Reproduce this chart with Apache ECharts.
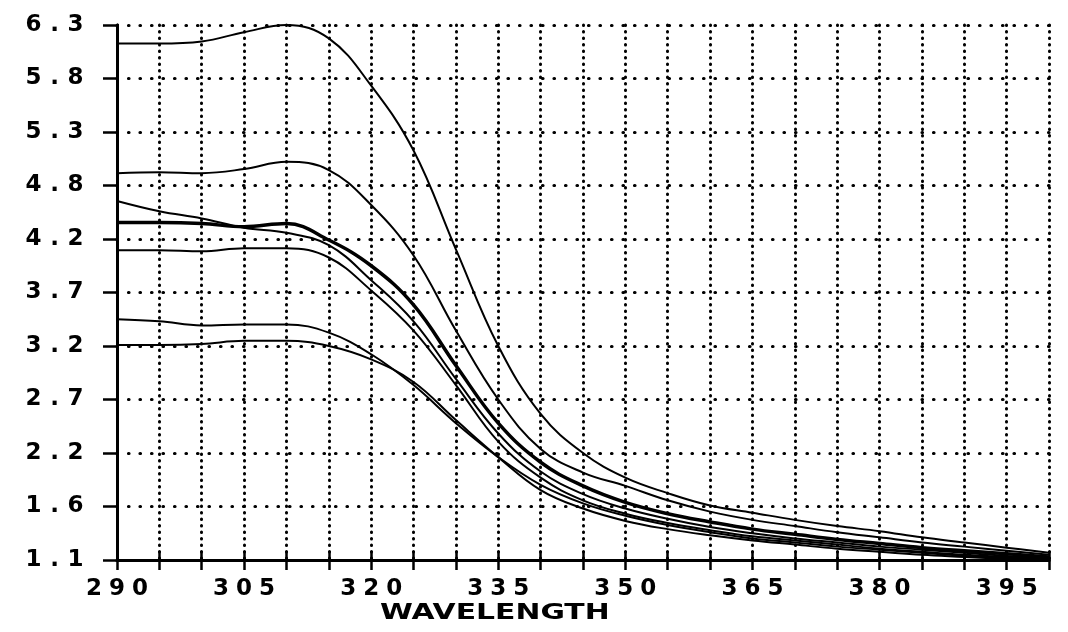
<!DOCTYPE html>
<html>
<head>
<meta charset="utf-8">
<script src="https://cdn.jsdelivr.net/npm/echarts@6/dist/echarts.min.js"></script>
<style>
html,body{margin:0;padding:0;background:#fff;}
#chart{width:1068px;height:632px;}
</style>
</head>
<body>
<div id="chart"></div>
<script>
// ---- data ----
const wavelengths = [290,295,300,305,310,315,320,325,330,335,340,345,350,355,360,365,370,375,380,385,390,395,400];
const curve1 = [6.12,6.12,6.14,6.23,6.30,6.17,5.71,5.08,4.12,3.18,2.52,2.14,1.90,1.75,1.63,1.56,1.49,1.43,1.38,1.32,1.27,1.22,1.17];
const curve2 = [4.86,4.87,4.86,4.90,4.97,4.89,4.55,4.06,3.33,2.66,2.18,1.95,1.82,1.68,1.57,1.49,1.43,1.37,1.32,1.27,1.23,1.19,1.15];
const curve3 = [4.59,4.49,4.42,4.33,4.28,4.16,3.82,3.42,2.86,2.33,1.96,1.74,1.60,1.50,1.42,1.36,1.31,1.27,1.23,1.20,1.17,1.14,1.12];
const curve4 = [4.38,4.38,4.37,4.34,4.37,4.21,3.96,3.58,2.99,2.43,2.05,1.82,1.66,1.55,1.47,1.40,1.35,1.30,1.26,1.22,1.19,1.16,1.13];
const curve5 = [4.11,4.11,4.10,4.13,4.13,4.04,3.72,3.33,2.80,2.25,1.90,1.68,1.55,1.46,1.39,1.33,1.29,1.25,1.21,1.18,1.15,1.13,1.11];
const curve6 = [3.44,3.42,3.38,3.39,3.39,3.31,3.10,2.80,2.43,2.10,1.83,1.65,1.53,1.44,1.37,1.31,1.27,1.23,1.20,1.17,1.14,1.12,1.10];
const curve7 = [3.19,3.19,3.20,3.23,3.23,3.18,3.05,2.83,2.46,2.10,1.78,1.60,1.48,1.40,1.34,1.29,1.25,1.21,1.18,1.15,1.13,1.11,1.09];
const yTickLabels = ['1.1','1.6','2.2','2.7','3.2','3.7','4.2','4.8','5.3','5.8','6.3'];
const xLabelStep = 15;
const xTitle = 'WAVELENGTH';
// ----------------------------------------------

const curves = [curve1, curve2, curve3, curve4, curve5, curve6, curve7];
const widths = [2, 2, 2, 3.5, 2, 2, 2];

function spaced(str) {
  return str.split('').map(function (c) { return '{c|' + c + '}'; }).join('');
}
const FONT = 'DejaVu Sans';

const chart = echarts.init(document.getElementById('chart'), null, {renderer: 'canvas'});
const dotH = {color: '#000', width: 3.2, type: [0.5, 11], cap: 'round'};
const dotV = {color: '#000', width: 3, type: [0.5, 6], cap: 'round'};

chart.setOption({
  backgroundColor: '#fff',
  animation: false,
  grid: {left: 117, right: 19, top: 25, bottom: 72, containLabel: false},
  xAxis: [{
    type: 'value', min: 290, max: 400, interval: 5,
    axisLine: {show: true, onZero: false, lineStyle: {color: '#000', width: 3}},
    axisTick: {show: true, length: 10, lineStyle: {color: '#000', width: 2.5}},
    axisLabel: {
      show: true, margin: 18,
      formatter: function (v) { return ((v - wavelengths[0]) % xLabelStep === 0 && v < 400) ? spaced(String(v)) : ''; },
      rich: {c: {width: 23, align: 'center', fontSize: 23, fontWeight: 'bold', fontFamily: FONT, color: '#000'}}
    },
    splitLine: {show: true, lineStyle: dotV}
  }, {
    type: 'value', min: 290, max: 400, interval: 5, position: 'bottom',
    axisLine: {show: false},
    axisTick: {show: true, inside: true, length: 9, lineStyle: {color: '#000', width: 2.5}},
    axisLabel: {show: false},
    splitLine: {show: false}
  }],
  yAxis: [{
    type: 'value', min: 1.1, max: 6.3, show: false,
    splitLine: {show: false}
  }, {
    type: 'value', min: 0, max: yTickLabels.length - 1, interval: 1, position: 'left',
    axisLine: {show: true, lineStyle: {color: '#000', width: 3}},
    axisTick: {show: true, length: 14, lineStyle: {color: '#000', width: 2.5}},
    axisLabel: {
      show: true, margin: 31,
      formatter: function (v) { return spaced(yTickLabels[Math.round(v)]); },
      rich: {c: {width: 21, align: 'center', fontSize: 23, fontWeight: 'bold', fontFamily: FONT, color: '#000'}}
    },
    splitLine: {show: true, lineStyle: dotH}
  }],
  graphic: [{
    type: 'text', left: 380, top: 603, scaleX: 1.42, originX: 0, originY: 0,
    style: {text: xTitle, font: 'bold 21px "DejaVu Sans"', fill: '#000'}
  }],
  series: curves.map(function (c, k) {
    return {
      type: 'line', xAxisIndex: 0, yAxisIndex: 0,
      data: wavelengths.map(function (w, i) { return [w, c[i]]; }),
      showSymbol: false, smooth: 0.4,
      lineStyle: {color: '#000', width: widths[k]},
      z: 3
    };
  })
});
</script>
</body>
</html>
